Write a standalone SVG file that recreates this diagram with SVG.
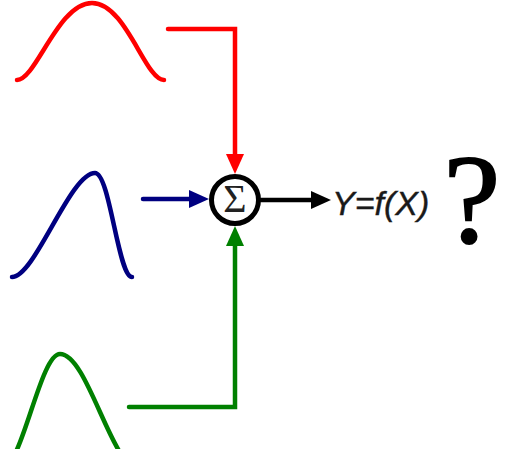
<svg xmlns="http://www.w3.org/2000/svg" width="511" height="449" viewBox="0 0 511 449">
<style>
.curve{fill:none;stroke-width:4.5;stroke-linecap:round;stroke-linejoin:round}
.conn{fill:none;stroke-width:4.5;stroke-linecap:round;stroke-linejoin:miter}
</style>
<defs>
<marker id="ar" markerUnits="userSpaceOnUse" markerWidth="20" markerHeight="18" viewBox="0 0 20 18" refX="2" refY="9" orient="auto"><path d="M0,0 L20,9 L0,18 z" fill="#ff0000"/></marker>
<marker id="ab" markerUnits="userSpaceOnUse" markerWidth="20" markerHeight="18" viewBox="0 0 20 18" refX="2" refY="9" orient="auto"><path d="M0,0 L20,9 L0,18 z" fill="#000080"/></marker>
<marker id="ag" markerUnits="userSpaceOnUse" markerWidth="20" markerHeight="18" viewBox="0 0 20 18" refX="2" refY="9" orient="auto"><path d="M0,0 L20,9 L0,18 z" fill="#008000"/></marker>
<marker id="ak" markerUnits="userSpaceOnUse" markerWidth="20" markerHeight="18" viewBox="0 0 20 18" refX="2" refY="9" orient="auto"><path d="M0,0 L20,9 L0,18 z" fill="#000"/></marker>
</defs>
<rect width="511" height="449" fill="#fff"/>
<g id="red-dist"><path class="curve" stroke="#ff0000" d="M17,80 C36,80 58,3 92,3 C126,3 145,80 164,80"/></g>
<g id="blue-dist"><path class="curve" stroke="#000080" d="M12,277 C35,277 70,173 95,173 C110,173 118,277 132,277"/></g>
<g id="green-dist"><path class="curve" stroke="#008000" d="M2,468 C22,468 40,354 60,354 C88,354 112,470 140,470"/></g>
<g id="connectors">
<path class="conn" stroke="#ff0000" d="M168,29 H235 V156" marker-end="url(#ar)"/>
<path class="conn" stroke="#000080" d="M143,199 H191" marker-end="url(#ab)"/>
<path class="conn" stroke="#008000" d="M129,407 H235 V244" marker-end="url(#ag)"/>
<path class="conn" stroke="#000" d="M261,200 H313" marker-end="url(#ak)"/>
</g>
<g id="sum">
<circle cx="235" cy="200" r="23.5" fill="#fff" stroke="#000" stroke-width="5"/>
<text x="235" y="212" text-anchor="middle" font-family="Liberation Serif, serif" font-size="40" fill="#222">Σ</text>
</g>
<g id="output"><text x="332" y="215" font-family="Liberation Sans, Arial, sans-serif" font-style="italic" font-size="34" fill="#1a1a1a" stroke="#1a1a1a" stroke-width="0.4">Y=f(X)</text></g>
<g id="question"><text x="472" y="242" text-anchor="middle" font-family="Liberation Serif, serif" font-size="128" fill="#000" stroke="#000" stroke-width="1.8">?</text></g>
</svg>
